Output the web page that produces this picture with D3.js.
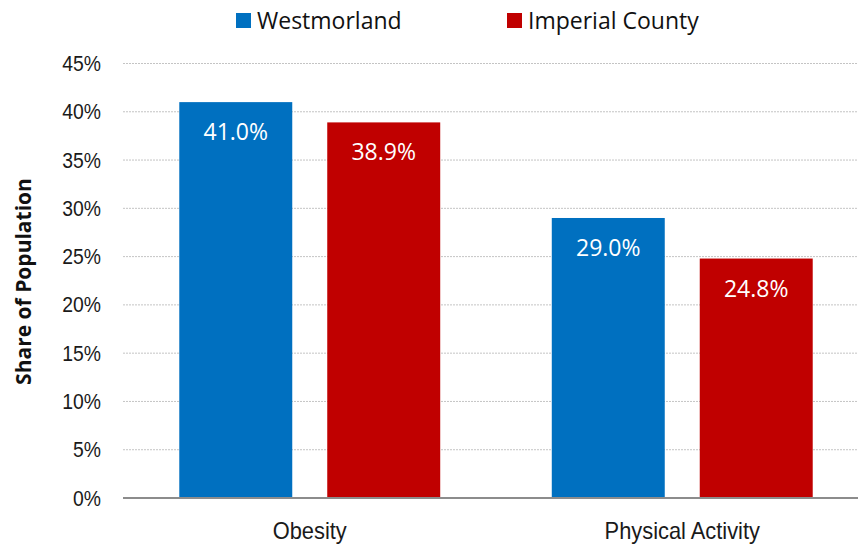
<!DOCTYPE html>
<html>
<head>
<meta charset="utf-8">
<script src="https://cdn.jsdelivr.net/npm/d3@7"></script>
<style>
  html, body { margin: 0; padding: 0; background: #fff; }
  svg { display: block; }
</style>
</head>
<body>
<svg id="chart" width="861" height="548"></svg>
<script>
// Health indicators: share of population, Westmorland vs Imperial County
const categories = ["Obesity", "Physical Activity"];
const seriesNames = ["Westmorland", "Imperial County"];
const westmorland = [41.0, 29.0];
const imperialCounty = [38.9, 24.8];
const seriesColors = ["#0070C0", "#C00000"];
const yTicks = [0, 5, 10, 15, 20, 25, 30, 35, 40, 45];

const seriesValues = [westmorland, imperialCounty];
const rows = categories.map((c, i) => ({
  category: c,
  values: seriesNames.map((s, j) => ({ series: s, value: seriesValues[j][i], color: seriesColors[j] }))
}));

const svg = d3.select("#chart");
const plotLeft = 123, plotRight = 858, plotTop = 63.5, plotBottom = 498;

const x0 = d3.scaleBand().domain(categories).range([123.5, 868.5]).paddingInner(0).paddingOuter(0);
const x1 = d3.scaleBand().domain(seriesNames).range([0, x0.bandwidth()])
  .paddingInner(0.2365).paddingOuter(0.377);
const y = d3.scaleLinear().domain([0, 45]).range([plotBottom, plotTop]);

const tickFont = "'Liberation Sans', Arial, sans-serif";
const labelFont = "'Open Sans', 'Noto Sans', sans-serif";

// Condense axis text horizontally (narrow sans look)
function condense(sel, factor) {
  sel.each(function () {
    const w = this.getComputedTextLength();
    d3.select(this).attr("textLength", w * factor).attr("lengthAdjust", "spacingAndGlyphs");
  });
}

// Horizontal gridlines
svg.append("g")
  .selectAll("line")
  .data(yTicks.filter(t => t > 0))
  .join("line")
  .attr("x1", plotLeft).attr("x2", plotRight)
  .attr("y1", d => y(d)).attr("y2", d => y(d))
  .attr("stroke", "#c4c4c4")
  .attr("stroke-width", 1)
  .attr("stroke-dasharray", "2,1");

// Y axis tick labels
const yAxis = d3.axisLeft(y).tickValues(yTicks).tickFormat(d => d + "%").tickSize(0).tickPadding(0);
const yg = svg.append("g").attr("transform", "translate(101,0)").call(yAxis);
yg.select(".domain").remove();
yg.selectAll("text")
  .attr("font-family", tickFont)
  .attr("font-size", 22)
  .attr("fill", "#1a1a1a")
  .call(condense, 0.88);

// Bars
const groups = svg.append("g").selectAll("g")
  .data(rows)
  .join("g")
  .attr("transform", d => `translate(${x0(d.category)},0)`);

groups.selectAll("rect")
  .data(d => d.values)
  .join("rect")
  .attr("x", d => x1(d.series))
  .attr("width", x1.bandwidth())
  .attr("y", d => y(d.value))
  .attr("height", d => y(0) - y(d.value))
  .attr("fill", d => d.color);

// Value labels inside bars
groups.selectAll("text")
  .data(d => d.values)
  .join("text")
  .attr("x", d => x1(d.series) + x1.bandwidth() / 2)
  .attr("y", d => y(d.value) + 38)
  .attr("text-anchor", "middle")
  .attr("font-family", labelFont)
  .attr("font-size", 23)
  .attr("fill", "#ffffff")
  .text(d => d.value.toFixed(1) + "%");

// Baseline
svg.append("line")
  .attr("x1", plotLeft).attr("x2", plotRight)
  .attr("y1", y(0)).attr("y2", y(0))
  .attr("stroke", "#8c8c8c")
  .attr("stroke-width", 2);

// Category labels
const xAxis = d3.axisBottom(x0).tickSize(0).tickPadding(0);
const xg = svg.append("g").attr("transform", "translate(0,521)").call(xAxis);
xg.select(".domain").remove();
xg.selectAll("text")
  .attr("font-family", tickFont)
  .attr("font-size", 24)
  .attr("fill", "#1a1a1a")
  .attr("dy", "0.74em")
  .call(condense, 0.91);

// Y axis title
svg.append("text")
  .attr("transform", "translate(31,281.5) rotate(-90)")
  .attr("text-anchor", "middle")
  .attr("font-family", labelFont)
  .attr("font-weight", "bold")
  .attr("font-size", 21)
  .attr("fill", "#111")
  .text("Share of Population");

// Legend
const legendX = [236, 507];
const legend = svg.append("g").selectAll("g")
  .data(seriesNames)
  .join("g")
  .attr("transform", (d, i) => `translate(${legendX[i]},0)`);
legend.append("rect")
  .attr("x", 0).attr("y", 13)
  .attr("width", 15).attr("height", 15)
  .attr("fill", (d, i) => seriesColors[i]);
legend.append("text")
  .attr("x", 21).attr("y", 28.5)
  .attr("font-family", labelFont)
  .attr("font-size", 23)
  .attr("fill", "#111")
  .text(d => d);
</script>
</body>
</html>
